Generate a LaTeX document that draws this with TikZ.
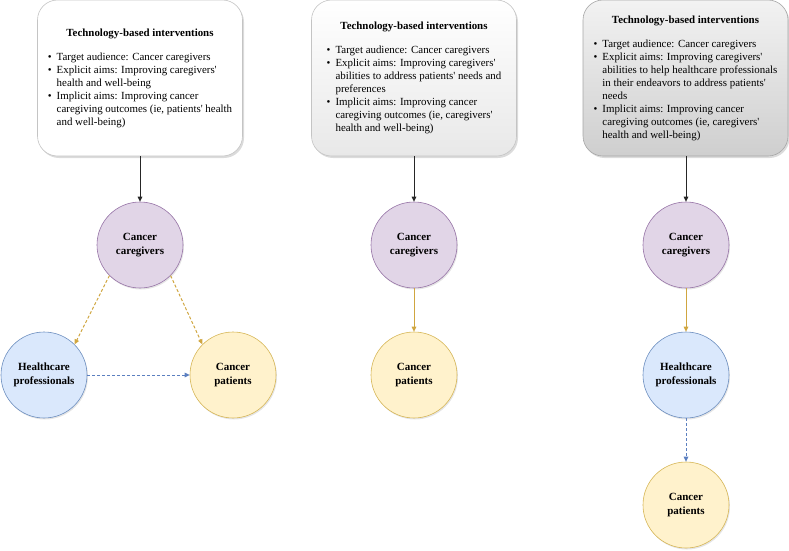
\documentclass[tikz,border=0pt]{standalone}
\usepackage{fontspec}
\setmainfont{Liberation Serif}[Ligatures=TeXOff]
\usetikzlibrary{arrows.meta,shadows}
\definecolor{cgfill}{HTML}{E1D5E7}\definecolor{cgdraw}{HTML}{9673A6}
\definecolor{hpfill}{HTML}{DAE8FC}\definecolor{hpdraw}{HTML}{6C8EBF}
\definecolor{ptfill}{HTML}{FFF2CC}\definecolor{ptdraw}{HTML}{D6B656}
\definecolor{goldline}{HTML}{D0A640}
\definecolor{blueline}{HTML}{5B7FC0}
\definecolor{boxline}{HTML}{C4C4C4}
\newcommand{\boxtext}[1]{\fontsize{10.9}{13}\selectfont\begin{tabular}{@{}l@{\hspace{5pt}}l@{}}#1\end{tabular}}
\newcommand{\boxtitle}{\multicolumn{2}{c}{\bfseries Technology-based interventions}\\[11pt]}
\begin{document}
\begin{tikzpicture}[x=1pt,y=-1pt,
  ibox/.style={draw=boxline, line width=0.6pt, rounded corners=20pt, minimum width=205pt, minimum height=156pt, inner sep=0pt,
    drop shadow={shadow xshift=1.5pt, shadow yshift=-2pt, fill=black!40, opacity=0.35}},
  actor/.style={circle, minimum size=86pt, inner sep=0pt, line width=0.6pt, align=center,
    font=\fontsize{11}{14}\selectfont\bfseries,
    drop shadow={shadow xshift=1pt, shadow yshift=-1.5pt, fill=black!40, opacity=0.25}},
  cg/.style={actor, draw=cgdraw, fill=cgfill},
  hp/.style={actor, draw=hpdraw, fill=hpfill},
  pt/.style={actor, draw=ptdraw, fill=ptfill},
  conn/.style={line width=1pt, -{Triangle[length=5pt,width=4.5pt]}},
  blackarrow/.style={conn, draw=black!85, fill=black!85},
  goldarrow/.style={conn, draw=goldline},
  bluearrow/.style={conn, draw=blueline},
  dashline/.style={dash pattern=on 3pt off 2pt}]
\useasboundingbox (0,0) rectangle (789,550);

\node[ibox, fill=white] (box1) at (140,78) {\boxtext{\boxtitle
\textbullet & Target audience: Cancer caregivers\\
\textbullet & Explicit aims: Improving caregivers'\\
 & health and well-being\\
\textbullet & Implicit aims: Improving cancer\\
 & caregiving outcomes (ie, patients' health\\
 & and well-being)}};

\node[ibox, top color=white, bottom color=black!9] (box2) at (414,78) {\boxtext{\boxtitle
\textbullet & Target audience: Cancer caregivers\\
\textbullet & Explicit aims: Improving caregivers'\\
 & abilities to address patients' needs and\\
 & preferences\\
\textbullet & Implicit aims: Improving cancer\\
 & caregiving outcomes (ie, caregivers'\\
 & health and well-being)}};

\node[ibox, draw=black!35, top color=black!5, bottom color=black!19] (box3) at (685.5,78) {\boxtext{\boxtitle
\textbullet & Target audience: Cancer caregivers\\
\textbullet & Explicit aims: Improving caregivers'\\
 & abilities to help healthcare professionals\\
 & in their endeavors to address patients'\\
 & needs\\
\textbullet & Implicit aims: Improving cancer\\
 & caregiving outcomes (ie, caregivers'\\
 & health and well-being)}};

\node[cg] (c1) at (140,245) {Cancer\\caregivers};
\node[hp] (h1) at (44,375) {Healthcare\\professionals};
\node[pt] (p1) at (233,375) {Cancer\\patients};

\node[cg] (c2) at (414,245) {Cancer\\caregivers};
\node[pt] (p2) at (414,375) {Cancer\\patients};

\node[cg] (c3) at (686,245) {Cancer\\caregivers};
\node[hp] (h3) at (686,375) {Healthcare\\professionals};
\node[pt] (p3) at (686,505) {Cancer\\patients};

\draw[blackarrow] (box1.south -| c1) -- (c1.north);
\draw[blackarrow] (box2.south -| c2) -- (c2.north);
\draw[blackarrow] (box3.south -| c3) -- (c3.north);

\draw[goldarrow, dashline] (c1.225) -- (h1.45);
\draw[goldarrow, dashline] (c1.315) -- (p1.135);
\draw[bluearrow, dashline] (h1.east) -- (p1.west);

\draw[goldarrow] (c2.south) -- (p2.north);

\draw[goldarrow] (c3.south) -- (h3.north);
\draw[bluearrow, dashline] (h3.south) -- (p3.north);
\end{tikzpicture}
\end{document}
